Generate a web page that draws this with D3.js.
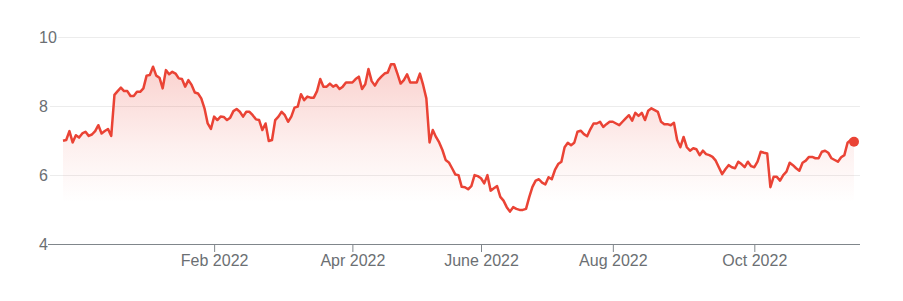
<!DOCTYPE html>
<html>
<head>
<meta charset="utf-8">
<script src="https://cdn.jsdelivr.net/npm/d3@7"></script>
<style>
  body { margin: 0; background: #fff; }
  svg { display: block; font-family: Arial, "Liberation Sans", sans-serif; }
</style>
</head>
<body>
<div id="chart"></div>
<script>
// Price line chart (one point per trading day)

// Daily closing values
const prices = [
  7.00, 7.02, 7.28, 6.95, 7.16, 7.09, 7.21, 7.26, 7.14, 7.18, 7.28, 7.45, 7.21, 7.28, 7.34, 7.14,
  8.33, 8.44, 8.54, 8.44, 8.44, 8.30, 8.30, 8.42, 8.42, 8.52, 8.89, 8.91, 9.15, 8.89, 8.83, 8.52,
  9.05, 8.93, 9.00, 8.95, 8.81, 8.79, 8.57, 8.76, 8.62, 8.40, 8.37, 8.23, 7.94, 7.50, 7.34, 7.70,
  7.60, 7.70, 7.69, 7.60, 7.67, 7.86, 7.92, 7.84, 7.70, 7.84, 7.84, 7.74, 7.62, 7.60,
  7.31, 7.50, 6.99, 7.02, 7.60, 7.70, 7.84, 7.74, 7.55, 7.70, 7.96, 7.99, 8.35, 8.18, 8.28, 8.25,
  8.25, 8.44, 8.79, 8.57, 8.57, 8.66, 8.57, 8.62, 8.50, 8.57, 8.69, 8.69, 8.69, 8.79, 8.86, 8.50,
  8.64, 9.08, 8.73, 8.60, 8.76, 8.86, 8.95, 8.98, 9.22, 9.22, 8.95, 8.66, 8.76, 8.93, 8.69, 8.69,
  8.69, 8.95, 8.62, 8.23, 6.95, 7.31, 7.11, 6.95, 6.73, 6.44, 6.37, 6.20, 6.02, 6.00,
  5.66, 5.65, 5.59, 5.68, 6.00, 5.97, 5.91, 5.76, 6.00, 5.55, 5.62, 5.68, 5.37, 5.26, 5.07, 4.94,
  5.07, 5.02, 4.99, 4.99, 5.02, 5.36, 5.66, 5.84, 5.88, 5.78, 5.73, 5.94, 5.88, 6.15, 6.32, 6.39,
  6.81, 6.94, 6.87, 6.94, 7.26, 7.29, 7.19, 7.13, 7.33, 7.50, 7.50, 7.55, 7.40, 7.48, 7.55, 7.55,
  7.50, 7.45, 7.55, 7.65, 7.74, 7.58, 7.81, 7.72, 7.81, 7.60, 7.87, 7.94, 7.89, 7.84,
  7.55, 7.48, 7.48, 7.45, 7.52, 7.02, 6.81, 7.11, 6.81, 6.71, 6.78, 6.75, 6.58, 6.71, 6.61, 6.58,
  6.53, 6.42, 6.22, 6.03, 6.17, 6.29, 6.23, 6.20, 6.39, 6.32, 6.23, 6.39, 6.26, 6.23, 6.39, 6.68,
  6.65, 6.63, 5.65, 5.95, 5.95, 5.84, 6.00, 6.10, 6.36, 6.29, 6.20, 6.13, 6.36, 6.42, 6.53, 6.53,
  6.49, 6.49, 6.68, 6.71, 6.65, 6.49, 6.44, 6.39, 6.52, 6.58, 6.94, 7.02, 6.97
]

// Trading-day index of the first session of each labelled month
const monthTickIndex = [47, 90, 130, 171, 215]
const monthTickLabels = ['Feb 2022', 'Apr 2022', 'June 2022', 'Aug 2022', 'Oct 2022']

const yTicks = [4, 6, 8, 10]

// Size
const width = 903
const height = 301
const plot = { left: 48, right: 860, top: 38, bottom: 244 }
const lineLeft = 63
const lineRight = 854

const red = '#ea4335'
const axisGray = '#80868b'
const labelGray = '#6b6f73'

const svg = d3.select('#chart')
  .append('svg')
  .attr('width', width)
  .attr('height', height)

const x = d3.scaleLinear()
  .domain([0, prices.length - 1])
  .range([lineLeft, lineRight])

const y = d3.scaleLinear()
  .domain([4, 10])
  .range([plot.bottom, plot.top - 0.6])

// Gradient under the line
const defs = svg.append('defs')
const grad = defs.append('linearGradient')
  .attr('id', 'fade')
  .attr('gradientUnits', 'userSpaceOnUse')
  .attr('x1', 0).attr('x2', 0)
  .attr('y1', y(9.3)).attr('y2', y(5.2))
grad.append('stop').attr('offset', 0).attr('stop-color', red).attr('stop-opacity', 0.25)
grad.append('stop').attr('offset', 0.6).attr('stop-color', red).attr('stop-opacity', 0.08)
grad.append('stop').attr('offset', 1).attr('stop-color', red).attr('stop-opacity', 0)

// Gridlines
svg.append('g')
  .selectAll('line')
  .data(yTicks.filter(d => d !== 4))
  .enter().append('line')
  .attr('x1', plot.left + 2)
  .attr('x2', plot.right)
  .attr('y1', d => Math.round(y(d)) + 0.5)
  .attr('y2', d => Math.round(y(d)) + 0.5)
  .attr('stroke', '#ececec')
  .attr('stroke-width', 1)

// Area + line
const area = d3.area()
  .x((d, i) => x(i))
  .y0(plot.bottom)
  .y1(d => y(d))

const line = d3.line()
  .x((d, i) => x(i))
  .y(d => y(d))

svg.append('path')
  .datum(prices)
  .attr('d', area)
  .attr('fill', 'url(#fade)')

svg.append('path')
  .datum(prices)
  .attr('d', line)
  .attr('fill', 'none')
  .attr('stroke', red)
  .attr('stroke-width', 2.5)
  .attr('stroke-linejoin', 'round')

// Last value marker
svg.append('circle')
  .attr('cx', x(prices.length - 1))
  .attr('cy', y(prices[prices.length - 1]))
  .attr('r', 5)
  .attr('fill', red)

// Y labels (left aligned, with white halo over gridlines)
svg.append('g')
  .selectAll('text')
  .data(yTicks)
  .enter().append('text')
  .attr('x', 39)
  .attr('y', d => y(d))
  .attr('dy', '0.35em')
  .attr('font-size', 16)
  .attr('fill', labelGray)
  .attr('stroke', '#fff')
  .attr('stroke-width', 3)
  .attr('paint-order', 'stroke')
  .text(d => d)

// X axis
const xAxis = d3.axisBottom(x)
  .tickValues(monthTickIndex)
  .tickFormat((d, i) => monthTickLabels[i])
  .tickSize(8)
  .tickPadding(3)
  .tickSizeOuter(0)

const gx = svg.append('g')
  .attr('transform', `translate(0, ${plot.bottom})`)
  .call(xAxis)

gx.select('.domain').remove()
gx.selectAll('.tick line').attr('stroke', axisGray)
gx.selectAll('.tick text')
  .attr('font-size', 16)
  .attr('font-family', 'Arial, "Liberation Sans", sans-serif')
  .attr('fill', labelGray)

svg.append('line')
  .attr('x1', plot.left)
  .attr('x2', plot.right)
  .attr('y1', plot.bottom + 0.5)
  .attr('y2', plot.bottom + 0.5)
  .attr('stroke', axisGray)
  .attr('stroke-width', 1)
</script>
</body>
</html>
